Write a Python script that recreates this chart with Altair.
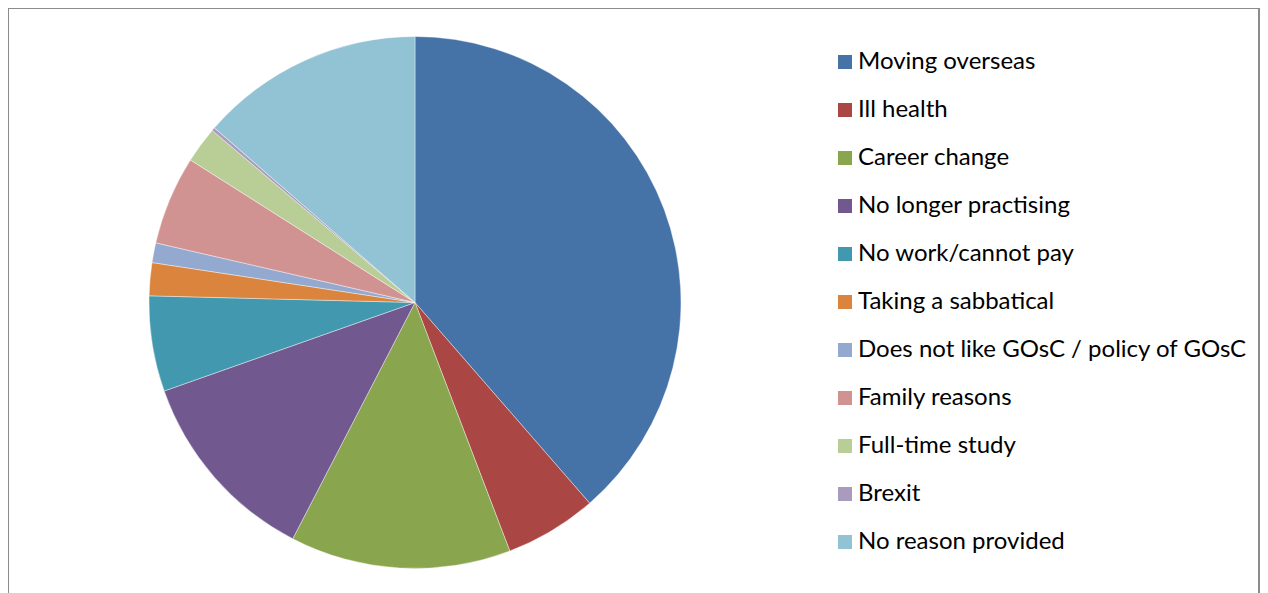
import altair as alt
import pandas as pd

categories = [
    "Moving overseas", "Ill health", "Career change", "No longer practising",
    "No work/cannot pay", "Taking a sabbatical", "Does not like GOsC / policy of GOsC",
    "Family reasons", "Full-time study", "Brexit", "No reason provided",
]
counts = [193, 28, 67, 60, 29, 10, 6, 27, 11, 1, 68]
colors = ["#4572A7", "#AA4643", "#89A54E", "#71588F", "#4198AF", "#DB843D",
          "#93A9CF", "#D19392", "#B9CD96", "#A99BBD", "#92C3D4"]

df = pd.DataFrame({"reason": categories, "count": counts, "idx": list(range(len(categories)))})

W, H = 1252, 585
CX, CY, R = 407, 294.5, 266
frame_color = "#8c8c8c"

pie = alt.Chart(df).mark_arc(radius=R, stroke="white", strokeWidth=0.4).encode(
    theta=alt.Theta("count:Q", stack=True),
    order=alt.Order("idx:Q", sort="ascending"),
    color=alt.Color(
        "reason:N",
        sort=categories,
        scale=alt.Scale(domain=categories, range=colors),
        legend=alt.Legend(
            title=None,
            orient="none",
            legendX=825,
            legendY=42,
            symbolType="square",
            symbolSize=196,
            symbolStrokeWidth=0,
            labelFont="Lato",
            labelFontSize=24,
            labelColor="#000000",
            labelOffset=1,
            rowPadding=24.0,
            labelLimit=500,
        ),
    ),
    x=alt.value(CX),
    y=alt.value(CY),
)

frame_top = alt.Chart(df).mark_rule(color=frame_color, strokeWidth=2).encode(
    x=alt.value(0), x2=alt.value(W), y=alt.value(0)
)
frame_left = alt.Chart(df).mark_rule(color=frame_color, strokeWidth=2).encode(
    x=alt.value(0), y=alt.value(0), y2=alt.value(H)
)
frame_right = alt.Chart(df).mark_rule(color=frame_color, strokeWidth=2).encode(
    x=alt.value(W - 1), y=alt.value(0), y2=alt.value(H)
)

chart = alt.layer(pie, frame_top, frame_left, frame_right).properties(
    width=W,
    height=H,
    autosize=alt.AutoSizeParams(type="none"),
    padding=0,
).configure_view(stroke=None)

chart.save("out.html", embed_options={"renderer": "svg", "actions": False})
